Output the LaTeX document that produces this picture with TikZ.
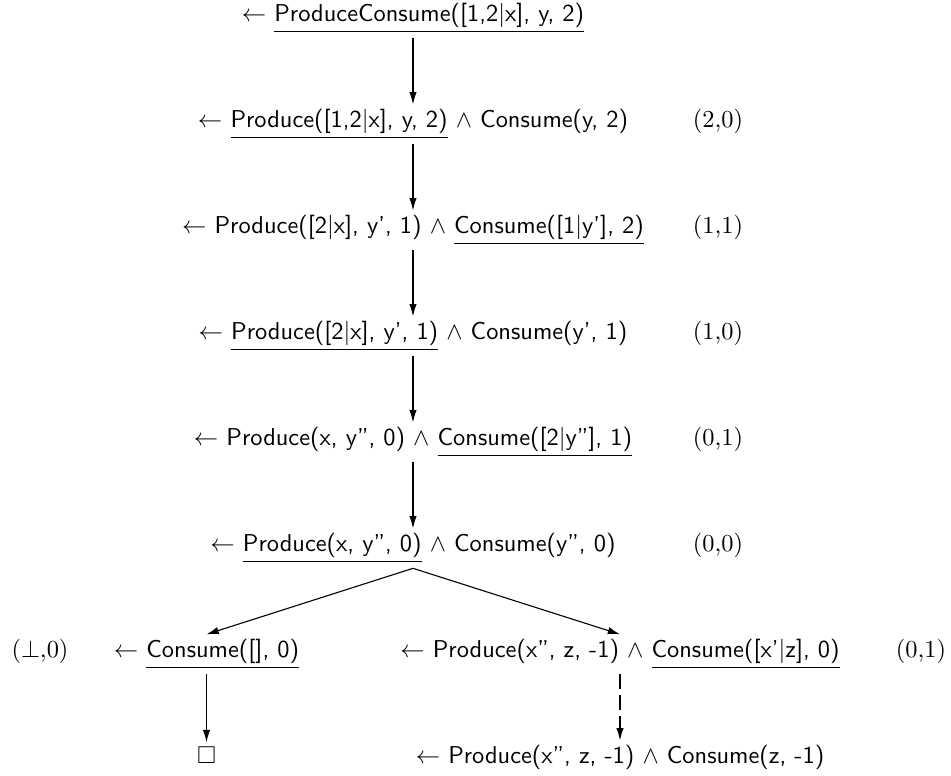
\documentclass[tikz,border=0pt]{standalone}
\usepackage{amssymb}
\usetikzlibrary{arrows.meta}
\newcommand{\ul}[1]{\underline{#1}}
\tikzset{
  goal/.style={font=\sffamily, inner sep=2pt, anchor=base},
  lab/.style={font=\rmfamily, inner sep=0pt, anchor=base},
  arr/.style={-{Latex[length=5pt,width=3pt]}, line width=0.45pt},
  darr/.style={arr, dash pattern=on 6pt off 2.5pt}
}
\begin{document}
\begin{tikzpicture}[x=0.41pt,y=-0.41pt]
\useasboundingbox (0,0) rectangle (951,776);
\node[goal] (r1) at (413,22) {$\leftarrow$ \ul{ProduceConsume([1,2|x], y, 2)}};
\node[goal] (r2) at (413,128) {$\leftarrow$ \ul{Produce([1,2|x], y, 2)} $\wedge$ Consume(y, 2)};
\node[goal] (r3) at (413,234) {$\leftarrow$ Produce([2|x], y', 1) $\wedge$ \ul{Consume([1|y'], 2)}};
\node[goal] (r4) at (413,340) {$\leftarrow$ \ul{Produce([2|x], y', 1)} $\wedge$ Consume(y', 1)};
\node[goal] (r5) at (413,446) {$\leftarrow$ Produce(x, y'', 0) $\wedge$ \ul{Consume([2|y''], 1)}};
\node[goal] (r6) at (413,552) {$\leftarrow$ \ul{Produce(x, y'', 0)} $\wedge$ Consume(y'', 0)};
\node[goal] (r7l) at (206.5,658) {$\leftarrow$ \ul{Consume([], 0)}};
\node[goal] (r7r) at (620,658) {$\leftarrow$ Produce(x'', z, -1) $\wedge$ \ul{Consume([x'|z], 0)}};
\node[goal] (r8l) at (206.5,764) {$\square$};
\node[goal] (r8r) at (620,764) {$\leftarrow$ Produce(x'', z, -1) $\wedge$ Consume(z, -1)};
\node[lab] (l2) at (718,128) {(2,0)};
\node[lab] (l3) at (718,234) {(1,1)};
\node[lab] (l4) at (718,340) {(1,0)};
\node[lab] (l5) at (718,446) {(0,1)};
\node[lab] (l6) at (718,552) {(0,0)};
\node[lab] (l7l) at (40,658) {($\bot$,0)};
\node[lab] (l7r) at (921,658) {(0,1)};
\draw[arr] (r1.south) -- (r2.north);
\draw[arr] (r2.south) -- (r3.north);
\draw[arr] (r3.south) -- (r4.north);
\draw[arr] (r4.south) -- (r5.north);
\draw[arr] (r5.south) -- (r6.north);
\draw[arr] (r6.south) -- (r7l.north);
\draw[arr] (r6.south) -- (r7r.north);
\draw[arr] (r7l.south) -- (r8l.north);
\draw[darr] (r7r.south) -- (r8r.north);
\end{tikzpicture}
\end{document}
